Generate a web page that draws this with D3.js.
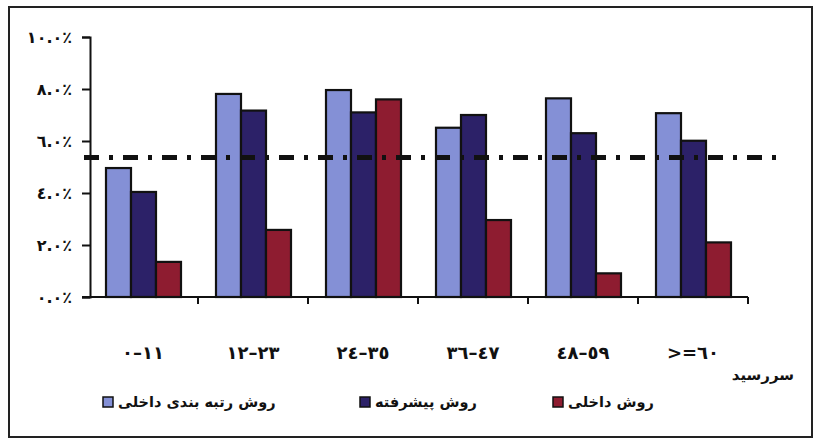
<!DOCTYPE html>
<html><head><meta charset="utf-8">
<script src="https://cdn.jsdelivr.net/npm/d3@7"></script>
<style>
html,body{margin:0;padding:0;background:#fff;}
svg{display:block;font-family:"DejaVu Sans",sans-serif;font-weight:bold;}
</style></head>
<body><svg id="c" width="819" height="440"></svg>
<script>
const categories = ["٠–١١","١٢–٢٣","٢٤–٣٥","٣٦–٤٧","٤٨–٥٩",">=٦٠"];
const seriesNames = ["روش رتبه بندی داخلی","روش پیشرفته","روش داخلی"];
const internalRating = [4.96, 7.81, 7.96, 6.51, 7.64, 7.07];
const advanced = [4.04, 7.17, 7.10, 7.00, 6.30, 6.01];
const internal = [1.35, 2.58, 7.60, 2.96, 0.91, 2.10];
const thresholdValue = 5.37;
const yTicks = [0,2,4,6,8,10];
const yTickLabels = ["٠.٠٪","٢.٠٪","٤.٠٪","٦.٠٪","٨.٠٪","١٠.٠٪"];
const axisTitle = "سررسید";
const colors = ["#8490d6","#2c2168","#8e1c30"];

const LRO = "\u202D", PDF = "\u202C";
const svg = d3.select("#c");
svg.append("rect").attr("x",9).attr("y",7).attr("width",803).attr("height",430)
  .attr("fill","#fff").attr("stroke","#222").attr("stroke-width",2);

const x = d3.scaleBand().domain(categories).range([88,748]).padding(0);
const xs = d3.scaleBand().domain(seriesNames).range([18,93]).padding(0);
const y = d3.scaleLinear().domain([0,10]).range([297,37]);

const seriesData = [internalRating, advanced, internal];
const rows = [];
categories.forEach((c,i)=>seriesNames.forEach((s,j)=>rows.push({c, s, j, v: seriesData[j][i]})));

svg.append("g").selectAll("rect").data(rows).join("rect")
  .attr("x", d=>x(d.c)+xs(d.s)).attr("width", xs.bandwidth())
  .attr("y", d=>y(d.v)).attr("height", d=>y(0)-y(d.v))
  .attr("fill", d=>colors[d.j]).attr("stroke","#111").attr("stroke-width",2.2);

// y axis
const ya = svg.append("g").attr("transform","translate(90,0)")
  .call(d3.axisLeft(y).tickValues(yTicks).tickSize(8).tickPadding(10)
    .tickFormat((d,i)=>LRO+yTickLabels[i]+PDF));
ya.select(".domain").attr("stroke","#111").attr("stroke-width",2);
ya.selectAll(".tick line").attr("stroke","#111").attr("stroke-width",2);
ya.selectAll("text").attr("font-size",16).attr("font-weight","bold").attr("fill","#111")
  .attr("font-family","DejaVu Sans");

// x axis
svg.append("line").attr("x1",82).attr("x2",748).attr("y1",y(0)).attr("y2",y(0))
  .attr("stroke","#111").attr("stroke-width",2);
const bounds = categories.map(c=>x(c)+x.bandwidth());
svg.append("g").selectAll("line").data(bounds).join("line")
  .attr("x1",d=>d).attr("x2",d=>d).attr("y1",y(0)).attr("y2",y(0)+7)
  .attr("stroke","#111").attr("stroke-width",2);
const xa = svg.append("g").attr("transform",`translate(0,${y(0)})`)
  .call(d3.axisBottom(x).tickSize(0).tickPadding(49).tickFormat(d=>LRO+d+PDF));
xa.select(".domain").remove();
xa.selectAll("text").attr("font-size",18).attr("font-weight","bold").attr("fill","#111")
  .attr("font-family","DejaVu Sans");

// threshold line
svg.append("line").attr("x1",84).attr("x2",785)
  .attr("y1",y(thresholdValue)).attr("y2",y(thresholdValue))
  .attr("stroke","#111").attr("stroke-width",5).attr("stroke-dasharray","15,10,4,10");

// axis title
svg.append("text").attr("x",794).attr("y",380).attr("text-anchor","end")
  .attr("font-size",15).attr("fill","#111").text(axisTitle);

// legend
const legendX = [103, 360, 553];
const lg = svg.append("g").selectAll("g").data(seriesNames).join("g")
  .attr("transform",(d,i)=>`translate(${legendX[i]},397)`);
lg.append("rect").attr("width",10).attr("height",10)
  .attr("fill",(d,i)=>colors[i]).attr("stroke","#111").attr("stroke-width",1.5);
lg.append("text").attr("x",15).attr("y",10).attr("font-size",14.5).attr("fill","#111")
  .text(d=>d);
</script></body></html>
